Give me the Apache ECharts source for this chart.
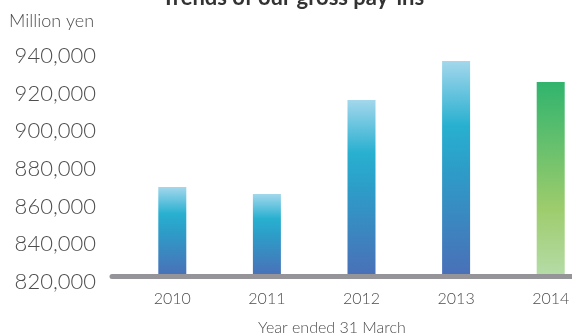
<!DOCTYPE html>
<html>
<head>
<meta charset="utf-8">
<script src="https://cdn.jsdelivr.net/npm/echarts@6/dist/echarts.min.js"></script>
<style>html,body{margin:0;padding:0;background:#fff}#c{width:572px;height:335px}</style>
</head>
<body>
<div id="c"></div>
<script>
const categories = ['2010', '2011', '2012', '2013', '2014'];
const values = [867500, 863800, 913700, 934400, 923300];
const yTicks = [820000, 840000, 860000, 880000, 900000, 920000, 940000];
const titleText = 'Trends of our gross pay-ins';
const unitText = 'Million yen';
const xNameText = 'Year ended 31 March';

const FONT = 'Lato';
const blue = new echarts.graphic.LinearGradient(0, 0, 0, 1, [
  {offset: 0, color: '#a3d7ec'},
  {offset: 0.3, color: '#28b0d0'},
  {offset: 0.5, color: '#2d9dc8'},
  {offset: 1, color: '#4a6fb8'}
]);
const green = new echarts.graphic.LinearGradient(0, 0, 0, 1, [
  {offset: 0, color: '#30b46e'},
  {offset: 0.65, color: '#9dcc6c'},
  {offset: 1, color: '#b6dca8'}
]);
const barData = values.map((v, i) => ({
  value: v,
  itemStyle: {color: i === values.length - 1 ? green : blue}
}));
const yMin = yTicks[0], yMax = yTicks[yTicks.length - 1];

const chart = echarts.init(document.getElementById('c'), null, {renderer: 'canvas'});
chart.setOption({
  animation: false,
  backgroundColor: '#fff',
  title: [
    {text: titleText, left: 293, top: -13, textAlign: 'center', padding: 0,
     textStyle: {fontFamily: FONT, fontWeight: 'bold', fontSize: 22, color: '#333'}},
    {text: unitText, left: 9, top: 12, padding: 0,
     textStyle: {fontFamily: FONT, fontWeight: 300, fontSize: 18, color: '#4d4d4d'}},
    {text: xNameText, left: 332, top: 320, textAlign: 'center', padding: 0,
     textStyle: {fontFamily: FONT, fontWeight: 300, fontSize: 16, color: '#4d4d4d'}}
  ],
  grid: [
    {left: 125, width: 473, top: 50.5, bottom: 58.5, outerBoundsMode: 'none', containLabel: false},
    {left: 112, right: 0, top: 50.5, bottom: 58.5, outerBoundsMode: 'none', containLabel: false},
    {left: 125, width: 473, top: 55.7, bottom: 53, outerBoundsMode: 'none', containLabel: false}
  ],
  xAxis: [
    {type: 'category', gridIndex: 0, data: categories,
     axisLine: {show: false}, axisTick: {show: false},
     axisLabel: {margin: 14, fontFamily: FONT, fontWeight: 300, fontSize: 16, color: '#4d4d4d'}},
    {type: 'value', gridIndex: 1, min: 0, max: 1, z: 10,
     axisLine: {show: true, lineStyle: {color: '#959599', width: 5}},
     axisTick: {show: false}, axisLabel: {show: false}, splitLine: {show: false}},
    {type: 'value', gridIndex: 2, show: false, min: 0, max: 1}
  ],
  yAxis: [
    {type: 'value', gridIndex: 0, show: false, min: yMin, max: yMax},
    {type: 'value', gridIndex: 1, show: false, min: 0, max: 1},
    {type: 'value', gridIndex: 2, min: yMin, max: yMax, interval: 20000,
     axisLine: {show: false}, axisTick: {show: false}, splitLine: {show: false},
     axisLabel: {margin: 29, fontFamily: FONT, fontWeight: 300, fontSize: 22, color: '#4d4d4d',
       formatter: v => v.toLocaleString('en-US')}}
  ],
  series: [
    {type: 'bar', xAxisIndex: 0, yAxisIndex: 0, data: barData, barWidth: 28}
  ]
});
</script>
</body>
</html>
